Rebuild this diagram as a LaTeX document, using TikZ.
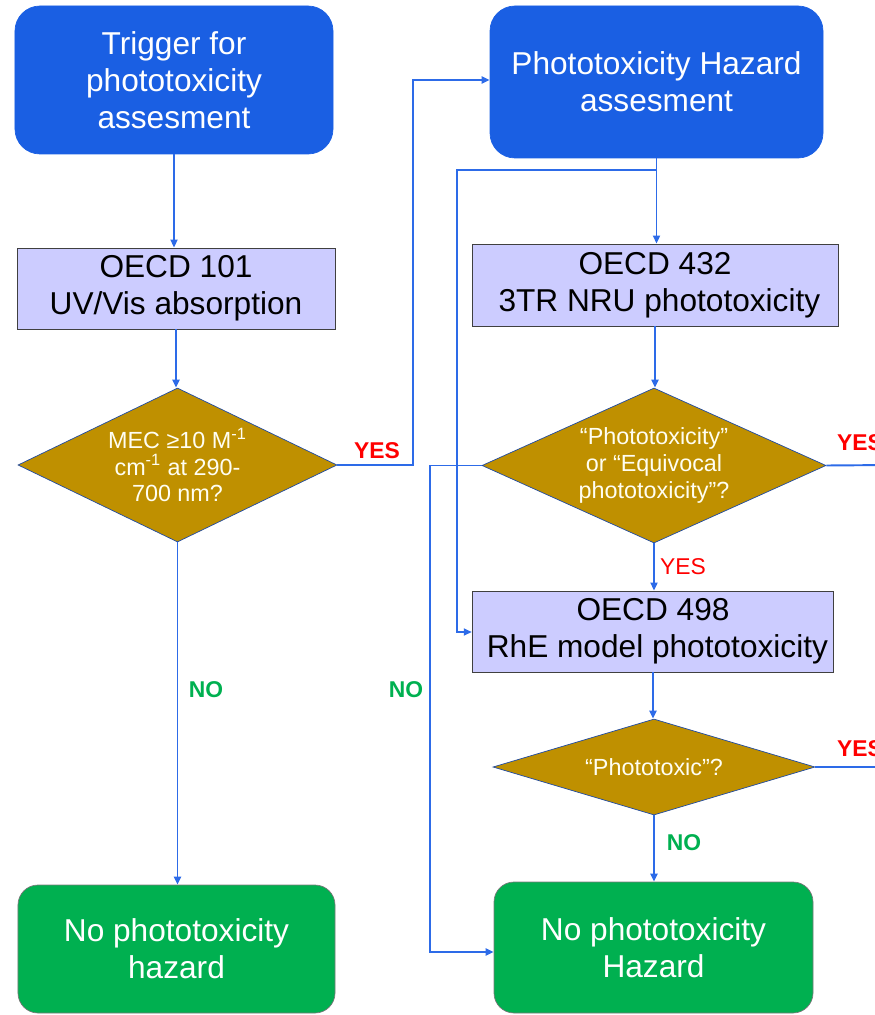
\documentclass[tikz,border=0pt]{standalone}
\usepackage{fontspec}
\setmainfont{Liberation Sans}
\usepackage{xcolor}
\usepackage{tikz}
\usetikzlibrary{positioning,arrows.meta,shapes.geometric,calc}
\definecolor{cazul}{HTML}{1A5FE3}
\definecolor{clinea}{HTML}{2D6BE8}
\definecolor{clila}{HTML}{CCCCFF}
\definecolor{cocre}{HTML}{BF9000}
\definecolor{cverde}{HTML}{00B050}
\definecolor{crojo}{HTML}{FF0000}
\definecolor{cborde}{HTML}{404040}
\tikzset{
  cajaazul/.style={rectangle, rounded corners=5mm, draw=cazul, fill=cazul,
    text=white, align=center, font=\fontsize{18}{21}\selectfont},
  cajalila/.style={rectangle, draw=cborde, fill=clila, line width=0.5pt,
    text=black, align=center, font=\fontsize{18}{21}\selectfont},
  cajaverde/.style={rectangle, rounded corners=4mm, draw=cborde!70, fill=cverde,
    line width=0.4pt, text=white, align=center, font=\fontsize{18}{21}\selectfont},
  rombo/.style={diamond, draw=clinea!70!black, fill=cocre, line width=0.4pt,
    inner sep=0pt, text=white!95!yellow, align=center,
    font=\fontsize{13.3}{15.3}\selectfont},
  flecha/.style={-{Triangle[length=1.6mm, width=1.4mm]}, line width=1.1pt, draw=clinea},
  linea/.style={line width=1.1pt, draw=clinea},
  etqsi/.style={font=\fontsize{13}{15}\selectfont\bfseries, text=crojo},
  etqno/.style={font=\fontsize{13}{15}\selectfont\bfseries, text=cverde},
}
\begin{document}
\begin{tikzpicture}[x=0.2mm, y=-0.2mm]
  \useasboundingbox (0,0) rectangle (874,1015);
  % left column
  \node[cajaazul, minimum width=63.6mm, minimum height=29.6mm] (trig) at (174,80)
    {Trigger for\\phototoxicity\\assesment};
  \node[cajalila, minimum width=63.6mm, minimum height=16.2mm] (b101) at (176,288.5)
    {OECD 101\\UV/Vis absorption};
  \node[rombo, shape aspect=2.07, minimum width=63.8mm, minimum height=30.8mm] (d1) at (177.5,465)
    {MEC ≥10 M\textsuperscript{-1}\\cm\textsuperscript{-1} at 290-\\700 nm?};
  \node[cajaverde, minimum width=63.4mm, minimum height=25.6mm] (noA) at (176.5,949)
    {No phototoxicity\\hazard};
  % right column
  \node[cajaazul, minimum width=66.6mm, minimum height=30.4mm] (haz) at (656.5,82)
    {Phototoxicity Hazard\\assesment};
  \node[cajalila, minimum width=73.2mm, minimum height=16.4mm] (b432) at (655,285)
    {OECD 432\\\ 3TR NRU phototoxicity};
  \node[rombo, shape aspect=2.22, minimum width=68.8mm, minimum height=31mm] (d2) at (654,465.5)
    {“Phototoxicity”\\or “Equivocal\\phototoxicity”?};
  \node[cajalila, minimum width=71.6mm, minimum height=16.2mm] (b498) at (653,631.5)
    {OECD 498\\\ RhE model phototoxicity};
  \node[rombo, shape aspect=3.35, minimum width=64.4mm, minimum height=19.2mm] (d3) at (654,767)
    {“Phototoxic”?};
  \node[cajaverde, minimum width=63.8mm, minimum height=26.2mm] (noB) at (653.5,947.5)
    {No phototoxicity\\Hazard};

  % bends and free ends
  \coordinate (subida) at (413,80);
  \coordinate (rama) at (656,170);
  \coordinate (salto) at (457,632);
  \coordinate (bajada) at (430,952);
  \coordinate (finA) at (890,465);
  \coordinate (finB) at (890,767);

  \draw[flecha] (trig.south) -- (trig.south |- b101.north);
  \draw[flecha] (b101.south) -- (b101.south |- d1.north);
  \draw[flecha] (d1.south) -- (d1.south |- noA.north);
  \draw[flecha] (d1.east) -| (subida) -- (subida -| haz.west);
  \draw[flecha] (haz.south) -- (haz.south |- b432.north);
  \draw[flecha] (rama) -| (salto) -- (salto -| b498.west);
  \draw[flecha] (b432.south) -- (b432.south |- d2.north);
  \draw[flecha] (d2.west) -| (bajada) -- (bajada -| noB.west);
  \draw[linea] (d2.east) -- (finA);
  \draw[flecha] (d2.south) -- (d2.south |- b498.north);
  \draw[flecha] (b498.south) -- (b498.south |- d3.north);
  \draw[linea] (d3.east) -- (finB);
  \draw[flecha] (d3.south) -- (d3.south |- noB.north);

  % labels
  \node[etqsi] (siA) at (377,451) {YES};
  \node[etqno] (noLA) at (206,690) {NO};
  \node[etqno] (noLB) at (406,690) {NO};
  \node[etqsi] (siB) at (860,443) {YES};
  \node[etqsi, font=\fontsize{13}{15}\selectfont] (siC) at (683,567) {YES};
  \node[etqsi] (siD) at (860,749) {YES};
  \node[etqno] (noLC) at (684,843) {NO};
\end{tikzpicture}
\end{document}
